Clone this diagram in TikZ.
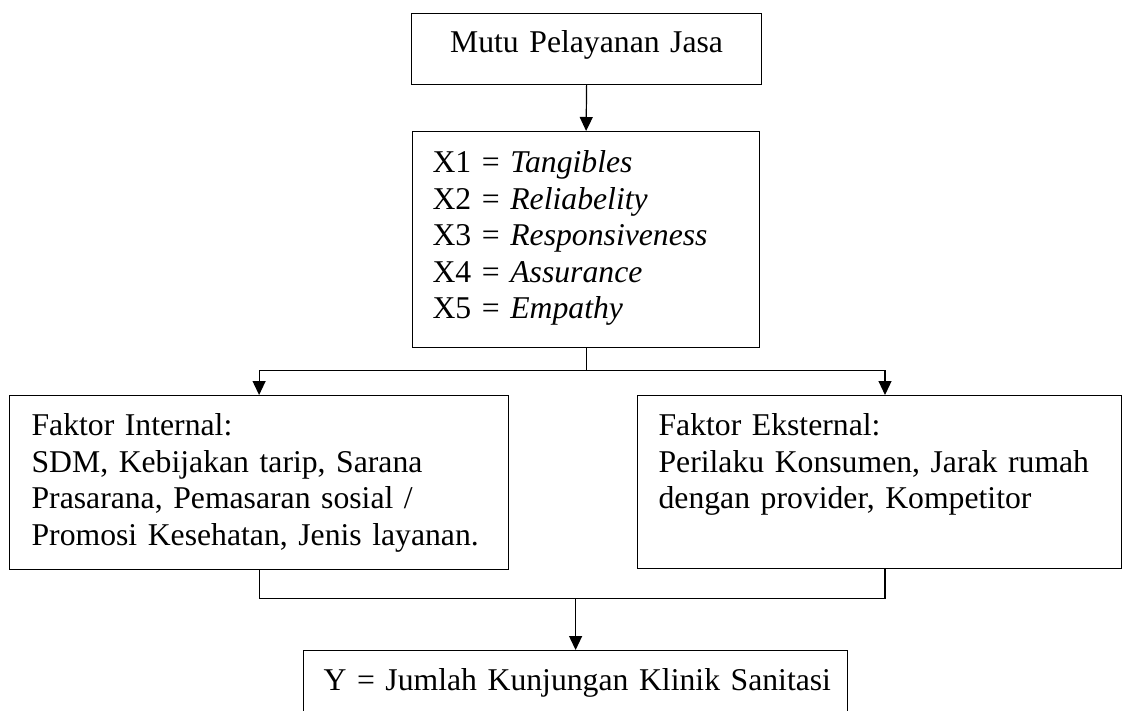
\documentclass[tikz,border=0pt]{standalone}
\usepackage{fontspec}
\setmainfont{Liberation Serif}
\usetikzlibrary{arrows.meta}

\begin{document}
\begin{tikzpicture}[x=0.5pt, y=-0.5pt,
    box/.style={draw, line width=0.6pt, inner ysep=0pt, anchor=north west, align=left},
    flow/.style={line width=0.6pt, -{Triangle[width=6.5pt, length=7pt]}},
    every node/.style={font=\fontsize{15.85pt}{18.25pt}\selectfont}]
    \useasboundingbox (0,0) rectangle (1123,711);
    \clip (0,0) rectangle (1123,711);

    \node[box, align=center, inner xsep=10pt, text width=155pt, text height=19.5pt, text depth=16pt] at (411,13) (mutu) {Mutu Pelayanan Jasa};
    \node[box, inner xsep=10pt, text width=153.5pt, text height=20.5pt, text depth=87.5pt] at (412,131) (dims) {X1 = \textit{Tangibles}\\ X2 = \textit{Reliabelity}\\ X3 = \textit{Responsiveness}\\ X4 = \textit{Assurance}\\ X5 = \textit{Empathy}};
    \node[box, inner xsep=11pt, text width=227.5pt, text height=20pt, text depth=67pt] at (9,395) (internal) {Faktor Internal:\\ SDM, Kebijakan tarip, Sarana\\ Prasarana, Pemasaran sosial /\\ Promosi Kesehatan, Jenis layanan.};
    \node[box, inner xsep=10.5pt, text width=221pt, text height=20pt, text depth=66.5pt] at (637,395) (external) {Faktor Eksternal:\\ Perilaku Konsumen, Jarak rumah\\ dengan provider, Kompetitor};
    \node[box, inner xsep=10pt, text width=252pt, text height=20pt, text depth=40pt] at (303,650) (kunjungan) {\mbox{Y = Jumlah Kunjungan Klinik Sanitasi}};

    \coordinate (split) at ([yshift=-11pt]dims.south);
    \coordinate (join) at ([yshift=-14pt]kunjungan.north |- internal.south);

    \draw[flow] (mutu.south) -- (dims.north);
    \draw[line width=0.6pt] (dims.south) -- (split);
    \draw[flow] (split) -| (internal.north);
    \draw[flow] (split) -| ([xshift=124pt]external.north west);
    \draw[line width=0.6pt] (internal.south) |- (join) -| ([xshift=124pt]external.south west);
    \draw[flow] (join) -- (kunjungan.north);
\end{tikzpicture}
\end{document}
